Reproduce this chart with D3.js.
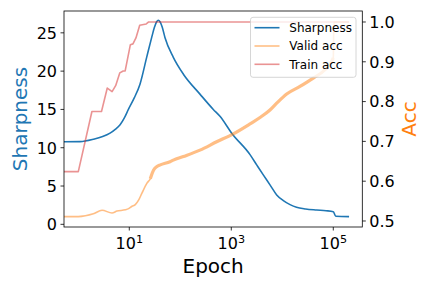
<!DOCTYPE html>
<html>
<head>
<meta charset="utf-8">
<script src="https://cdn.jsdelivr.net/npm/d3@7"></script>
<style>
  html, body { margin: 0; padding: 0; background: #fff; }
  svg { display: block; font-family: "DejaVu Sans", sans-serif; }
</style>
</head>
<body>
<script>
// ---- data ----
const sharpEpoch = [0.5, 1.08, 1.97, 3.0, 4.19, 5.3, 6.6, 8.0, 9.6, 12.5, 16.2, 21.9, 27.5, 31, 34.4, 37, 40, 44, 50, 73, 115, 243, 444, 600, 1018, 2330, 3150, 4240, 5740, 7770, 10500, 14200, 19000, 28700, 47300, 72000, 100000, 112000, 204000];
const sharpness  = [10.78, 10.8, 11.1, 11.45, 11.9, 12.4, 13.0, 13.9, 15.0, 16.5, 18.3, 21.8, 24.4, 25.7, 26.45, 26.65, 26.45, 25.8, 24.4, 21.8, 19.6, 17.0, 15.0, 14.1, 11.9, 9.1, 7.76, 6.45, 5.15, 3.84, 3.09, 2.57, 2.22, 2.0, 1.87, 1.78, 1.65, 1.05, 1.0];

const validEpoch = [0.5, 1, 1.97, 2.92, 4.58, 5.74, 8.35, 9.7, 11.3, 13.1, 15.3, 17.7, 22.2, 25.8, 30, 34.9, 40.5, 62.8, 73, 115, 243, 517, 1095, 2330, 3660, 5740, 7770, 12200, 22200, 40500, 68700, 93100, 100000, 103000, 204000];
const validAcc   = [0.511, 0.511, 0.518, 0.527, 0.520, 0.525, 0.528, 0.531, 0.537, 0.541, 0.553, 0.570, 0.595, 0.606, 0.628, 0.637, 0.641, 0.649, 0.653, 0.662, 0.678, 0.699, 0.719, 0.744, 0.760, 0.779, 0.796, 0.819, 0.838, 0.859, 0.880, 0.901, 0.910, 1.0, 1.0];

const trainEpoch = [0.5, 1, 1.85, 2.85, 3.7, 4.6, 5.4, 6.5, 7.6, 8.3, 10.5, 11.8, 13.5, 16, 21.5, 24, 204000];
const trainAcc   = [0.624, 0.624, 0.775, 0.775, 0.834, 0.825, 0.840, 0.872, 0.877, 0.877, 0.943, 0.945, 0.960, 0.992, 0.995, 1.0, 1.0];

const xTicks = [10, 1000, 100000];
const xTickExp = ["1", "3", "5"];
const leftTicks = [0, 5, 10, 15, 20, 25];
const rightTicks = [0.5, 0.6, 0.7, 0.8, 0.9, 1.0];
const legendLabels = ["Sharpness", "Valid acc", "Train acc"];

// ---- layout ----
const W = 432, H = 288;
const L = 64, R = 362.3, T = 11, B = 227;
const blue = "#1f77b4", orange = "#ff7f0e", red = "#d62728";

const svg = d3.select("body").append("svg").attr("width", W).attr("height", H);

const x = d3.scaleLog().domain([Math.pow(10, -0.2804), Math.pow(10, 5.569)]).range([L, R]);
const yL = d3.scaleLinear().domain([-0.35, 27.85]).range([B, T]);
const yR = d3.scaleLinear().domain([0.4849, 1.0276]).range([B, T]);

svg.append("defs").append("clipPath").attr("id", "clip")
  .append("rect").attr("x", L).attr("y", T).attr("width", R - L).attr("height", B - T);

const plot = svg.append("g").attr("clip-path", "url(#clip)");

const lineS = d3.line().x((d, i) => x(sharpEpoch[i])).y(d => yL(d)).curve(d3.curveMonotoneX);
plot.append("path").datum(sharpness).attr("d", lineS)
  .attr("fill", "none").attr("stroke", blue).attr("stroke-width", 1.6)
  .attr("stroke-linejoin", "round");

const lineV = d3.line().x((d, i) => x(validEpoch[i])).y(d => yR(d)).curve(d3.curveMonotoneX);
const gV = plot.append("g").attr("opacity", 0.5);
gV.append("path").datum(validAcc).attr("d", lineV)
  .attr("fill", "none").attr("stroke", orange).attr("stroke-width", 1.6)
  .attr("stroke-linejoin", "round");
// noisy section appears thicker in the reference
const noisyIdx = validEpoch.map((e, i) => i).filter(i => validEpoch[i] >= 25 && validEpoch[i] <= 100000);
gV.append("path").datum(noisyIdx)
  .attr("d", d3.line().x(i => x(validEpoch[i])).y(i => yR(validAcc[i])).curve(d3.curveMonotoneX))
  .attr("fill", "none").attr("stroke", orange).attr("stroke-width", 3.2)
  .attr("stroke-linejoin", "round");

const lineT = d3.line().x((d, i) => x(trainEpoch[i])).y(d => yR(d));
plot.append("path").datum(trainAcc).attr("d", lineT)
  .attr("fill", "none").attr("stroke", red).attr("stroke-opacity", 0.5).attr("stroke-width", 1.6)
  .attr("stroke-linejoin", "round");

// ---- axes ----
const axisG = svg.append("g").attr("stroke", "#000").attr("stroke-width", 0.8);
axisG.append("rect").attr("x", L).attr("y", T).attr("width", R - L).attr("height", B - T).attr("fill", "none");

xTicks.forEach((t, i) => {
  const px = x(t);
  axisG.append("line").attr("x1", px).attr("x2", px).attr("y1", B).attr("y2", B + 3.5);
  const tx = svg.append("text").attr("x", px).attr("y", 249).attr("text-anchor", "middle")
    .attr("font-size", 16).attr("fill", "#000");
  tx.append("tspan").text("10");
  tx.append("tspan").attr("font-size", 11.2).attr("dy", -6.2).text(xTickExp[i]);
});

leftTicks.forEach(t => {
  const py = yL(t);
  axisG.append("line").attr("x1", L - 3.5).attr("x2", L).attr("y1", py).attr("y2", py);
  svg.append("text").attr("x", L - 7).attr("y", py + 5.8).attr("text-anchor", "end")
    .attr("font-size", 16).attr("fill", "#000").text(String(t));
});

rightTicks.forEach(t => {
  const py = yR(t);
  axisG.append("line").attr("x1", R).attr("x2", R + 3.5).attr("y1", py).attr("y2", py);
  svg.append("text").attr("x", R + 7).attr("y", py + 5.8).attr("text-anchor", "start")
    .attr("font-size", 16).attr("fill", "#000").text(t.toFixed(1));
});

svg.append("text").attr("x", (L + R) / 2).attr("y", 273).attr("text-anchor", "middle")
  .attr("font-size", 20).attr("fill", "#000").text("Epoch");
svg.append("text").attr("transform", `translate(26.5,${(T + B) / 2}) rotate(-90)`)
  .attr("text-anchor", "middle").attr("font-size", 20).attr("fill", blue).text("Sharpness");
svg.append("text").attr("transform", `translate(416,${(T + B) / 2}) rotate(-90)`)
  .attr("text-anchor", "middle").attr("font-size", 20).attr("fill", orange).text("Acc");

// ---- legend ----
const lg = svg.append("g");
lg.append("rect").attr("x", 250.5).attr("y", 17.3).attr("width", 105.5).attr("height", 60)
  .attr("rx", 2.5).attr("fill", "#fff").attr("fill-opacity", 0.8)
  .attr("stroke", "#cccccc").attr("stroke-width", 0.8);
const legStyles = [
  { c: blue, o: 1 },
  { c: orange, o: 0.5 },
  { c: red, o: 0.5 }
];
legendLabels.forEach((lab, i) => {
  const cy = 27.7 + i * 18.3;
  lg.append("line").attr("x1", 254.5).attr("x2", 279.5).attr("y1", cy).attr("y2", cy)
    .attr("stroke", legStyles[i].c).attr("stroke-opacity", legStyles[i].o).attr("stroke-width", 1.6);
  lg.append("text").attr("x", 289.3).attr("y", cy + 4.4).attr("font-size", 12)
    .attr("fill", "#000").text(lab);
});
</script>
</body>
</html>
